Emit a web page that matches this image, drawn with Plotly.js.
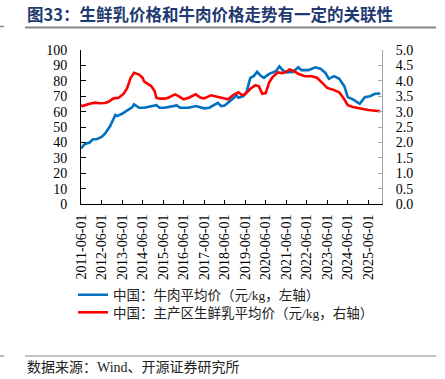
<!DOCTYPE html>
<html>
<head>
<meta charset="utf-8">
<script src="https://cdn.plot.ly/plotly-3.0.1.min.js"></script>
<style>html,body{margin:0;padding:0;background:#fff;}#chart{width:445px;height:379px;}</style>
</head>
<body>
<div id="chart"></div>
<script>
// 中国：牛肉平均价（元/kg，左轴）
const beefDates = ['2011-06','2011-08','2011-11','2012-01','2012-03','2012-06','2012-08','2012-11','2013-02','2013-03','2013-06','2013-09','2013-12','2014-01','2014-04','2014-07','2014-10','2015-02','2015-04','2015-07','2015-11','2016-02','2016-04','2016-09','2017-01','2017-06','2017-09','2018-01','2018-02','2018-04','2018-06','2018-09','2019-01','2019-02','2019-05','2019-07','2019-09','2019-11','2020-01','2020-03','2020-05','2020-08','2020-12','2021-02','2021-04','2021-06','2021-10','2022-01','2022-03','2022-07','2022-11','2023-02','2023-05','2023-07','2023-10','2024-01','2024-04','2024-06','2024-09','2025-01','2025-04','2025-07','2025-10','2026-01'];
const beefValues = [36.0,38.8,39.9,42.0,42.0,43.5,45.7,50.6,57.8,57.1,58.6,60.8,62.9,64.7,62.5,62.5,63.4,64.2,62.5,62.5,63.4,64.0,62.5,62.5,63.6,62.1,62.5,64.7,65.7,63.6,64.0,66.8,70.5,69.0,70.0,73.3,81.9,83.0,85.8,83.4,81.9,84.5,86.2,89.4,86.9,85.5,85.8,88.8,86.9,86.9,88.8,87.9,85.1,81.3,83.0,81.3,76.5,69.4,67.9,65.1,69.4,70.0,71.6,71.8];

// 中国：主产区生鲜乳平均价（元/kg，右轴）
const milkDates = ['2011-06','2011-07','2011-10','2012-02','2012-05','2012-08','2012-10','2013-01','2013-04','2013-07','2013-09','2013-11','2014-01','2014-04','2014-06','2014-07','2014-09','2014-11','2015-01','2015-02','2015-04','2015-07','2015-09','2016-01','2016-03','2016-06','2016-09','2017-01','2017-04','2017-06','2017-10','2018-02','2018-05','2018-08','2018-11','2019-02','2019-04','2019-06','2019-09','2019-12','2020-02','2020-04','2020-06','2020-08','2020-10','2021-01','2021-04','2021-06','2021-08','2021-10','2022-01','2022-05','2022-09','2022-12','2023-03','2023-06','2023-09','2024-01','2024-04','2024-06','2024-09','2025-01','2025-06','2026-01'];
const milkValues = [3.21,3.18,3.24,3.29,3.27,3.28,3.32,3.43,3.45,3.58,3.77,4.10,4.26,4.20,4.10,3.97,3.90,3.83,3.67,3.45,3.42,3.42,3.45,3.56,3.50,3.40,3.45,3.56,3.45,3.43,3.53,3.47,3.45,3.40,3.54,3.63,3.54,3.56,3.74,3.86,3.82,3.58,3.60,3.94,4.12,4.27,4.25,4.29,4.37,4.33,4.23,4.15,4.15,4.10,3.94,3.77,3.72,3.63,3.40,3.21,3.15,3.11,3.05,3.01];

const yearTicksStart = '2011-06-01';
const xRange = ['2011-06-01','2026-02-01'];
const leftRange = [0, 100];
const rightRange = [0, 5];

const L = 81, R = 382, T = 50, B = 204;
const W = 445, H = 379;
const px = x => (x - L) / (R - L);
const py = y => (B - y) / (B - T);

const serif = 'Liberation Serif, Times New Roman, serif';
const cjk = 'Liberation Serif, Noto Sans CJK SC, serif';

const traces = [
  {x: beefDates, y: beefValues, type: 'scatter', mode: 'lines', name: '中国：牛肉平均价（元/kg，左轴）',
   line: {color: '#0070C0', width: 2.6}, yaxis: 'y', legend: 'legend'},
  {x: milkDates, y: milkValues, type: 'scatter', mode: 'lines', name: '中国：主产区生鲜乳平均价（元/kg，右轴）',
   line: {color: '#FF0000', width: 2.6}, yaxis: 'y2', legend: 'legend2'}
];

const legendCommon = {xanchor: 'left', yanchor: 'middle', bgcolor: 'rgba(0,0,0,0)',
  font: {family: cjk, size: 13.5, color: '#222'}, itemwidth: 30, borderwidth: 0};

const layout = {
  width: W, height: H,
  margin: {l: L, r: W - R, t: T, b: H - B},
  paper_bgcolor: '#fff', plot_bgcolor: '#fff',
  showlegend: true,
  title: {text: '图33：生鲜乳价格和牛肉价格走势有一定的关联性', xref: 'container', yref: 'container',
    x: 27 / W, xanchor: 'left', y: 1 - 15 / H, yanchor: 'middle',
    font: {family: 'Noto Sans CJK SC, sans-serif', size: 16.5, color: '#1F3A70', weight: 'bold'}},
  xaxis: {type: 'date', range: xRange, tick0: yearTicksStart, dtick: 'M12', tickformat: '%Y-%m-%d',
    tickangle: -90, ticks: 'inside', ticklen: 4, tickcolor: '#000', showline: true, linecolor: '#000', linewidth: 1,
    showgrid: false, zeroline: false, tickfont: {family: serif, size: 14, color: '#000'}, ticklabelstandoff: 4},
  yaxis: {range: leftRange, dtick: 10, ticks: 'inside', ticklen: 5, tickcolor: '#000', showline: true,
    linecolor: '#000', linewidth: 1, showgrid: false, zeroline: false,
    tickfont: {family: serif, size: 14, color: '#000'}, ticklabelstandoff: 10},
  yaxis2: {range: rightRange, dtick: 0.5, tickformat: '.1f', overlaying: 'y', side: 'right', ticks: 'inside',
    ticklen: 4, tickcolor: '#A6A6A6', showline: true, linecolor: '#A6A6A6', linewidth: 1, showgrid: false,
    zeroline: false, tickfont: {family: serif, size: 14, color: '#000'}, ticklabelstandoff: 10},
  legend: Object.assign({x: px(73), y: py(295)}, legendCommon),
  legend2: Object.assign({x: px(73), y: py(312.5)}, legendCommon),
  shapes: [
    {type: 'line', xref: 'paper', yref: 'paper', x0: px(0), x1: px(4), y0: py(26.5), y1: py(26.5), line: {color: '#888', width: 1.5}},
    {type: 'line', xref: 'paper', yref: 'paper', x0: px(25), x1: px(436), y0: py(27.5), y1: py(27.5), line: {color: '#888', width: 2}},
    {type: 'line', xref: 'paper', yref: 'paper', x0: px(0), x1: px(4), y0: py(356), y1: py(356), line: {color: '#888', width: 1.2}},
    {type: 'line', xref: 'paper', yref: 'paper', x0: px(25), x1: px(436), y0: py(356), y1: py(356), line: {color: '#888', width: 1.2}}
  ],
  annotations: [
    {text: '数据来源：Wind、开源证券研究所', xref: 'paper', yref: 'paper', x: px(25), y: py(368),
     xanchor: 'left', yanchor: 'middle', showarrow: false, font: {family: cjk, size: 14, color: '#222'}}
  ]
};

Plotly.newPlot('chart', traces, layout, {displayModeBar: false, staticPlot: true});
</script>
</body>
</html>
